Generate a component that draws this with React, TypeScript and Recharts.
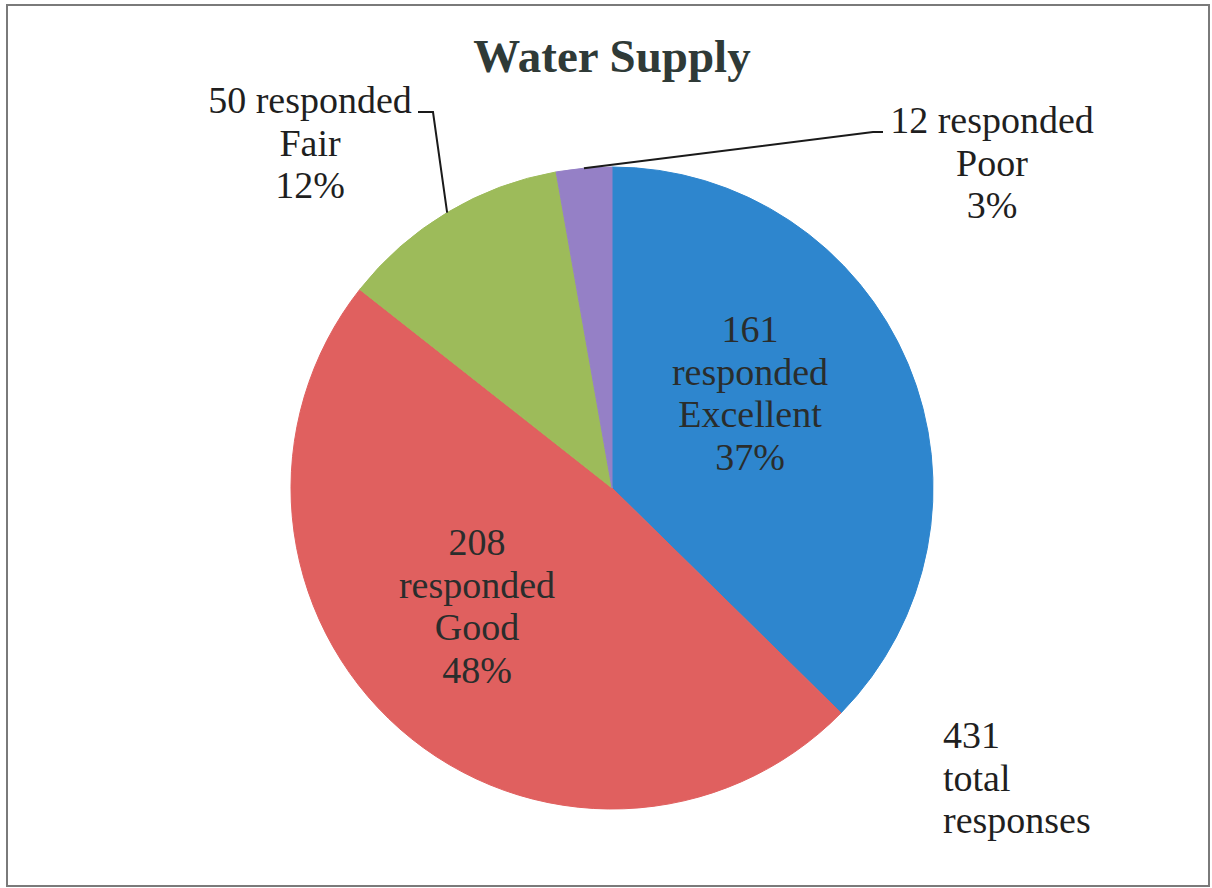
import React from 'react';
import { PieChart, Pie, Cell } from 'recharts';

const categories = ['Excellent', 'Good', 'Fair', 'Poor'];
const responses = [161, 208, 50, 12];
const sliceColors = ['#2E86CE', '#E0605F', '#9DBB5A', '#9580C6'];
const chartTitle = 'Water Supply';
const totalLines = ['total', 'responses'];

const data = categories.map((name, i) => ({ name, value: responses[i] }));
const total = responses.reduce((a, b) => a + b, 0);

// label layout relative to pie centre
const labelLayout = [
  { dx: 138, dy: -146, split: true, leader: null },
  { dx: -135, dy: 67, split: true, leader: null },
  { dx: -302, dy: -375, split: false, leader: [[-179, -376], [-194, -376]] },
  { dx: 380, dy: -355, split: false, leader: [[261, -356], [271, -356]] },
];

const FONT = 'Liberation Serif, Tinos, Times New Roman, DejaVu Serif, serif';
const FS = 38;
const LH = 42.7;

const renderLabel = (props: any) => {
  const { cx, cy, midAngle, outerRadius, index, value, percent } = props;
  const L = labelLayout[index];
  const pct = Math.round(percent * 100) + '%';
  const lines = L.split
    ? [String(value), 'responded', categories[index], pct]
    : [`${value} responded`, categories[index], pct];
  const x = cx + L.dx;
  const y0 = cy + L.dy;
  let leader: any = null;
  if (L.leader) {
    const rad = Math.PI / 180;
    const sx = cx + outerRadius * Math.cos(-midAngle * rad);
    const sy = cy + outerRadius * Math.sin(-midAngle * rad);
    const pts = [[sx, sy], ...L.leader.map(([a, b]) => [cx + a, cy + b])];
    leader = (
      <polyline
        points={pts.map((p) => p.join(',')).join(' ')}
        fill="none"
        stroke="#1a1a1a"
        strokeWidth={2}
      />
    );
  }
  return (
    <g key={`lbl-${index}`}>
      {leader}
      <text
        x={x}
        y={y0}
        textAnchor="middle"
        style={{ fontFamily: FONT, fontSize: FS }}
        fill={L.split ? '#2a2d2c' : '#1f1f1f'}
      >
        {lines.map((t, i) => (
          <tspan key={i} x={x} y={y0 + i * LH}>
            {t}
          </tspan>
        ))}
      </text>
    </g>
  );
};

export default function App() {
  return (
    <div style={{ position: 'absolute', left: 0, top: 0, width: 1212, height: 888, background: '#fff' }}>
      <div
        style={{
          position: 'absolute',
          left: 6,
          top: 4,
          width: 1200,
          height: 879,
          border: '2px solid #7a7a7a',
        }}
      />
      <div style={{ position: 'absolute', left: 0, top: 0 }}>
        <PieChart width={1212} height={888} margin={{ top: 0, right: 0, bottom: 0, left: 0 }}>
          <Pie
            data={data}
            dataKey="value"
            nameKey="name"
            cx={612}
            cy={488}
            innerRadius={0}
            outerRadius={321}
            startAngle={90}
            endAngle={-270}
            isAnimationActive={false}
            label={renderLabel}
            labelLine={false}
          >
            {data.map((d, i) => (
              <Cell key={d.name} fill={sliceColors[i]} stroke={sliceColors[i]} strokeWidth={1} />
            ))}
          </Pie>
        </PieChart>
      </div>
      <svg
        width={1212}
        height={888}
        style={{ position: 'absolute', left: 0, top: 0, pointerEvents: 'none' }}
      >
        <text
          x={612}
          y={72}
          textAnchor="middle"
          style={{ fontFamily: FONT, fontSize: 47, fontWeight: 'bold' }}
          fill="#2f3a37"
        >
          {chartTitle}
        </text>
        <text x={943} y={748} style={{ fontFamily: FONT, fontSize: FS }} fill="#1f1f1f">
          <tspan x={943} y={748}>{String(total)}</tspan>
          {totalLines.map((t, i) => (
            <tspan key={t} x={943} y={748 + (i + 1) * LH}>
              {t}
            </tspan>
          ))}
        </text>
      </svg>
    </div>
  );
}
